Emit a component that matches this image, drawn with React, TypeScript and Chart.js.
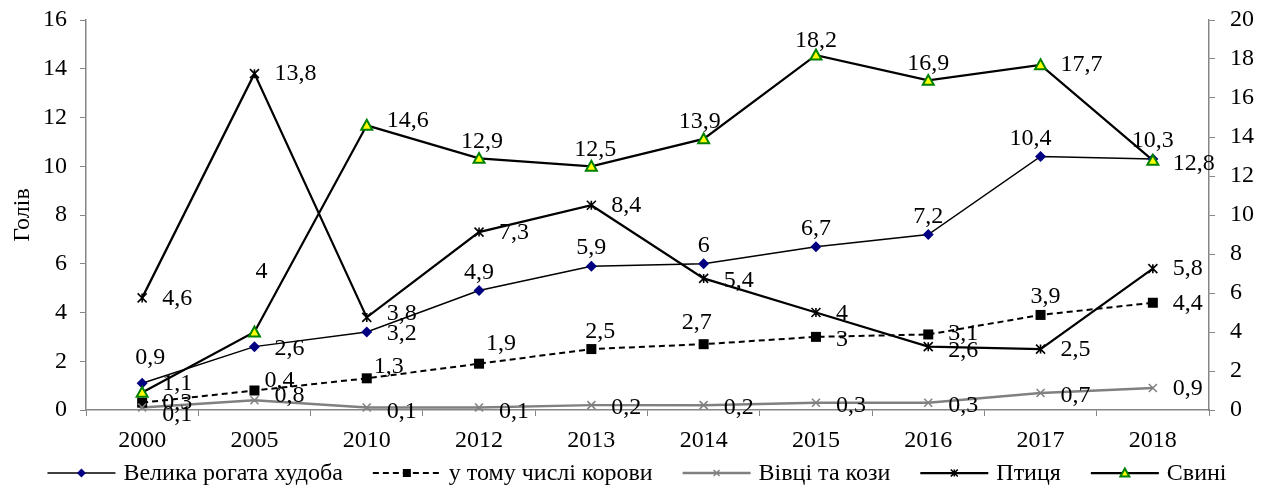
import React, { useEffect, useRef } from 'react';
import { Chart, registerables } from 'chart.js';

Chart.register(...registerables);

const years = ['2000', '2005', '2010', '2012', '2013', '2014', '2015', '2016', '2017', '2018'];
const cattle = [1.1, 2.6, 3.2, 4.9, 5.9, 6, 6.7, 7.2, 10.4, 10.3];
const cows = [0.3, 0.8, 1.3, 1.9, 2.5, 2.7, 3, 3.1, 3.9, 4.4];
const sheepGoats = [0.1, 0.4, 0.1, 0.1, 0.2, 0.2, 0.3, 0.3, 0.7, 0.9];
const poultry = [4.6, 13.8, 3.8, 7.3, 8.4, 5.4, 4, 2.6, 2.5, 5.8];
const pigs = [0.9, 4, 14.6, 12.9, 12.5, 13.9, 18.2, 16.9, 17.7, 12.8];

const seriesNames = ['Велика рогата худоба', 'у тому числі корови', 'Вівці та кози', 'Птиця', 'Свині'];
const yTitle = 'Голів';
const leftMax = 16;
const rightMax = 20;

const FONT = "'Liberation Serif', 'Times New Roman', serif";
const FS = 24;

type Mk = { style: string; r: number; fill: string; stroke: string; lw: number };

function drawMarker(ctx: CanvasRenderingContext2D, m: Mk, x: number, y: number) {
  const r = m.r;
  ctx.save();
  ctx.fillStyle = m.fill;
  ctx.strokeStyle = m.stroke;
  ctx.lineWidth = m.lw;
  ctx.setLineDash([]);
  ctx.beginPath();
  if (m.style === 'rectRot') {
    ctx.moveTo(x, y - r);
    ctx.lineTo(x + r, y);
    ctx.lineTo(x, y + r);
    ctx.lineTo(x - r, y);
    ctx.closePath();
    ctx.fill();
  } else if (m.style === 'rect') {
    ctx.rect(x - r, y - r, 2 * r, 2 * r);
    ctx.fill();
  } else if (m.style === 'crossRot') {
    ctx.moveTo(x - r, y - r);
    ctx.lineTo(x + r, y + r);
    ctx.moveTo(x + r, y - r);
    ctx.lineTo(x - r, y + r);
    ctx.stroke();
  } else if (m.style === 'star') {
    ctx.moveTo(x - r, y - r);
    ctx.lineTo(x + r, y + r);
    ctx.moveTo(x + r, y - r);
    ctx.lineTo(x - r, y + r);
    ctx.moveTo(x, y - r);
    ctx.lineTo(x, y + r);
    ctx.stroke();
  } else if (m.style === 'triangle') {
    ctx.moveTo(x, y - r);
    ctx.lineTo(x + r, y + r * 0.8);
    ctx.lineTo(x - r, y + r * 0.8);
    ctx.closePath();
    ctx.fill();
    ctx.stroke();
  }
  ctx.restore();
}

const markers: Mk[] = [
  { style: 'rectRot', r: 5.5, fill: '#000080', stroke: '#000080', lw: 1 },
  { style: 'rect', r: 5, fill: '#000000', stroke: '#000000', lw: 1 },
  { style: 'crossRot', r: 4, fill: '#808080', stroke: '#808080', lw: 1.5 },
  { style: 'star', r: 4.5, fill: '#000000', stroke: '#000000', lw: 1.6 },
  { style: 'triangle', r: 5.5, fill: '#FFFF00', stroke: '#008000', lw: 2 },
];
const lineStyles = [
  { color: '#000000', width: 1.5, dash: [] as number[] },
  { color: '#000000', width: 2, dash: [6, 4] },
  { color: '#808080', width: 2.5, dash: [] as number[] },
  { color: '#000000', width: 2.25, dash: [] as number[] },
  { color: '#000000', width: 2.25, dash: [] as number[] },
];

// label placement per series/point: [dx, dy, align]
const R = (dy = 2): [number, number, string] => [20, dy, 'left'];
const A = (dx = 0, dy = -18): [number, number, string] => [dx, dy, 'center'];
const labelPlacement: [number, number, string][][] = [
  [R(1), R(2), R(2), A(), A(), A(), A(), A(), A(-10), A()],
  [R(0), R(5), A(22, -12), A(22, -20), A(9, -17), A(-7, -21), R(3), R(-1), A(5, -18), R(1)],
  [R(7), A(25, -20), R(4), R(4), R(3), R(3), R(3), R(3), R(3), R(1)],
  [R(1), R(0), R(-4), R(1), R(0), R(2), R(1), R(4), R(1), R(0)],
  [A(8, -35), A(7, -60), R(-5), A(3, -17), A(4, -17), A(-4, -17), A(0, -14), A(0, -17), R(0), R(3)],
];

const fmt = (v: number) => String(v).replace('.', ',');

const pointMarkersPlugin = {
  id: 'pointMarkers',
  afterDatasetsDraw(chart: any) {
    const ctx = chart.ctx as CanvasRenderingContext2D;
    chart.data.datasets.forEach((ds: any, di: number) => {
      const meta = chart.getDatasetMeta(di);
      meta.data.forEach((pt: any) => drawMarker(ctx, markers[di], pt.x, pt.y));
    });
    ctx.save();
    ctx.font = `${FS}px ${FONT}`;
    ctx.fillStyle = '#000000';
    ctx.textBaseline = 'middle';
    chart.data.datasets.forEach((ds: any, di: number) => {
      const meta = chart.getDatasetMeta(di);
      meta.data.forEach((pt: any, i: number) => {
        const [dx, dy, al] = labelPlacement[di][i];
        ctx.textAlign = al as CanvasTextAlign;
        ctx.fillText(fmt(ds.data[i]), pt.x + dx, pt.y + dy);
      });
    });
    ctx.restore();
  },
};

const legendPlugin = {
  id: 'customLegend',
  afterDraw(chart: any) {
    const ctx = chart.ctx as CanvasRenderingContext2D;
    const y = 465;
    const lineLen = 68;
    const gapText = 8;
    const gapItem = 30;
    ctx.save();
    ctx.font = `${FS}px ${FONT}`;
    ctx.textBaseline = 'middle';
    ctx.textAlign = 'left';
    const widths = seriesNames.map((n) => ctx.measureText(n).width);
    const total = widths.reduce((a, w) => a + lineLen + gapText + w, 0) + gapItem * (seriesNames.length - 1);
    let x = 629 - total / 2;
    seriesNames.forEach((name, i) => {
      const ls = lineStyles[i];
      ctx.beginPath();
      ctx.strokeStyle = ls.color;
      ctx.lineWidth = ls.width;
      ctx.setLineDash(ls.dash);
      ctx.moveTo(x, y);
      ctx.lineTo(x + lineLen, y);
      ctx.stroke();
      ctx.setLineDash([]);
      drawMarker(ctx, { ...markers[i], r: markers[i].r - 1 }, x + lineLen / 2, y);
      ctx.fillStyle = '#000000';
      ctx.fillText(name, x + lineLen + gapText, y + 1);
      x += lineLen + gapText + widths[i] + gapItem;
    });
    ctx.restore();
  },
};

export default function App() {
  const ref = useRef<HTMLCanvasElement | null>(null);
  useEffect(() => {
    if (!ref.current) return;
    const series = [cattle, cows, sheepGoats, poultry, pigs];
    const datasets = series.map((d, i) => ({
      label: seriesNames[i],
      data: d,
      yAxisID: i === 4 ? 'y2' : 'y',
      borderColor: lineStyles[i].color,
      borderWidth: lineStyles[i].width,
      borderDash: lineStyles[i].dash,
      pointRadius: 0,
      pointHoverRadius: 0,
      fill: false,
      tension: 0,
      order: 5 - i,
    }));
    const tickFont = { family: FONT, size: FS };
    const chart = new Chart(ref.current, {
      type: 'line',
      data: { labels: years, datasets },
      options: {
        animation: false,
        responsive: true,
        maintainAspectRatio: false,
        layout: { padding: { top: 12, bottom: 36, left: 0, right: 0 } },
        plugins: { legend: { display: false }, tooltip: { enabled: false } },
        scales: {
          x: {
            offset: true,
            grid: { offset: true, drawOnChartArea: false, drawTicks: true, tickLength: 6, color: '#868686', lineWidth: 1 },
            border: { color: '#868686', width: 1.5 },
            ticks: { font: tickFont, color: '#000', padding: 10, maxRotation: 0, autoSkip: false },
            afterFit: (s: any) => { s.height = 42; s.paddingLeft = 0; s.paddingRight = 0; },
          },
          y: {
            position: 'left',
            min: 0,
            max: leftMax,
            ticks: { stepSize: 2, font: tickFont, color: '#000', padding: 13 },
            grid: { drawOnChartArea: false, drawTicks: true, tickLength: 6, color: '#868686' },
            border: { color: '#868686', width: 1.5 },
            title: { display: true, text: yTitle, font: tickFont, color: '#000', padding: { top: 0, bottom: 0 } },
            afterFit: (s: any) => { s.width = 78; s.paddingTop = 0; s.paddingBottom = 0; },
          },
          y2: {
            position: 'right',
            min: 0,
            max: rightMax,
            ticks: { stepSize: 2, font: tickFont, color: '#000', padding: 15 },
            grid: { drawOnChartArea: false, drawTicks: true, tickLength: 6, color: '#868686' },
            border: { color: '#868686', width: 1.5 },
            afterFit: (s: any) => { s.width = 48; s.paddingTop = 0; s.paddingBottom = 0; },
          },
        },
      } as any,
      plugins: [pointMarkersPlugin, legendPlugin],
    });
    return () => chart.destroy();
  }, []);
  return (
    <div style={{ width: '1249px', height: '480px', position: 'relative' }}>
      <canvas ref={ref} />
    </div>
  );
}
